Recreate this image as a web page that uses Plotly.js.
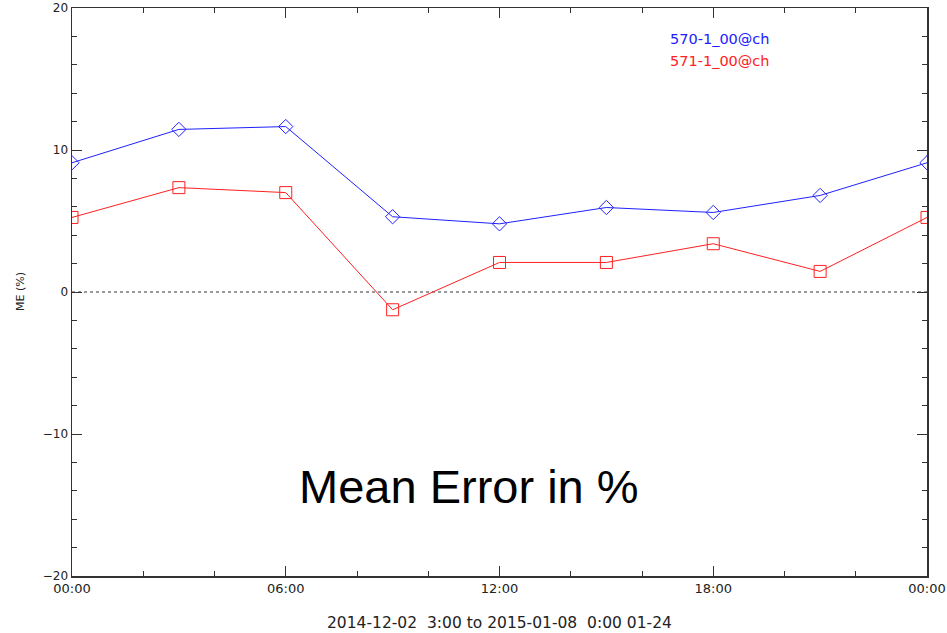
<!DOCTYPE html>
<html>
<head>
<meta charset="utf-8">
<script src="https://cdn.plot.ly/plotly-3.0.1.min.js"></script>
<style>html,body{margin:0;padding:0;background:#fff;}#chart{width:947px;height:633px;}</style>
</head>
<body>
<div id="chart"></div>
<script>
const hours = [0, 3, 6, 9, 12, 15, 18, 21, 24];
const series570 = [9.1, 11.45, 11.65, 5.3, 4.8, 5.95, 5.6, 6.8, 9.1];
const series571 = [5.25, 7.35, 7.0, -1.25, 2.08, 2.08, 3.4, 1.45, 5.25];
const seriesNames = ["570-1_00@ch", "571-1_00@ch"];
const xTickVals = [0, 6, 12, 18, 24];
const xTickText = ["00:00", "06:00", "12:00", "18:00", "00:00"];
const yTickVals = [-20, -10, 0, 10, 20];
const subtitle = "2014-12-02  3:00 to 2015-01-08  0:00 01-24";
const yLabel = "ME (%)";
const bigLabel = "Mean Error in %";

const font = "DejaVu Sans, Verdana, sans-serif";
const bigFont = "Liberation Sans, Arial, sans-serif";

const traces = [
  {x: hours, y: series570, mode: "lines+markers", name: seriesNames[0],
   line: {color: "#2020ff", width: 1},
   marker: {symbol: "diamond-open", size: 11, color: "#2020ff", line: {width: 1}}},
  {x: hours, y: series571, mode: "lines+markers", name: seriesNames[1],
   line: {color: "#ff2020", width: 1},
   marker: {symbol: "square-open", size: 12, color: "#ff2020", line: {width: 1}}}
];

const layout = {
  width: 947, height: 633,
  margin: {l: 72, r: 20, t: 8, b: 57},
  paper_bgcolor: "#fff", plot_bgcolor: "#fff",
  showlegend: false,
  font: {family: font, size: 13, color: "#222"},
  xaxis: {
    range: [0, 24], tickvals: xTickVals, ticktext: xTickText,
    ticks: "inside", ticklen: 10, tickwidth: 1, tickcolor: "#333",
    minor: {dtick: 2, ticks: "inside", ticklen: 5, tickcolor: "#333", tickwidth: 1, tick0: 0},
    showline: true, linecolor: "#333", linewidth: 1.5, mirror: "ticks",
    showgrid: false, zeroline: false, tickfont: {family: font, size: 13, color: "#222"}
  },
  yaxis: {
    range: [-20, 20], tickvals: yTickVals,
    ticks: "inside", ticklen: 10, tickwidth: 1, tickcolor: "#333",
    minor: {dtick: 2, ticks: "inside", ticklen: 5, tickcolor: "#333", tickwidth: 1, tick0: 0},
    showline: true, linecolor: "#333", linewidth: 1.5, mirror: "ticks",
    showgrid: false, zeroline: false, tickfont: {family: font, size: 12, color: "#222"}
  },
  shapes: [
    {type: "line", xref: "paper", yref: "y", x0: 0, x1: 1, y0: 0, y1: 0,
     line: {color: "#333", width: 1, dash: "dot"}, layer: "below"}
  ],
  annotations: [
    {xref: "paper", yref: "paper", x: 0.5, y: 0, yshift: -47, xanchor: "center", yanchor: "middle",
     text: subtitle, showarrow: false, font: {family: font, size: 15.5, color: "#222"}},
    {xref: "paper", yref: "paper", x: 0, xshift: -52, y: 0.5, xanchor: "center", yanchor: "middle",
     text: yLabel, textangle: -90, showarrow: false, font: {family: font, size: 11, color: "#222"}},
    {xref: "paper", yref: "paper", x: 0.464, y: 0.157, xanchor: "center", yanchor: "middle",
     text: bigLabel, showarrow: false, font: {size: 47, color: "#000", family: bigFont}},
    {xref: "paper", yref: "paper", x: 0.6975, y: 0.946, xanchor: "left", yanchor: "middle",
     text: seriesNames[0], showarrow: false, font: {family: font, size: 14.5, color: "#2020ff"}},
    {xref: "paper", yref: "paper", x: 0.6975, y: 0.907, xanchor: "left", yanchor: "middle",
     text: seriesNames[1], showarrow: false, font: {family: font, size: 14.5, color: "#ff2020"}}
  ]
};

Plotly.newPlot("chart", traces, layout, {displayModeBar: false, staticPlot: true});
</script>
</body>
</html>
